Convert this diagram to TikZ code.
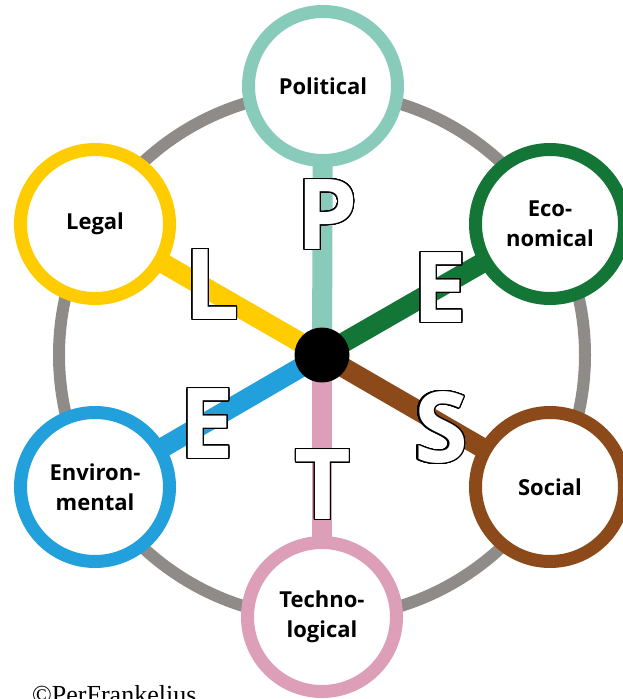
\documentclass[tikz,border=0pt]{standalone}
\usepackage{fontspec}
\setmainfont{Open Sans}
\newfontfamily\cpyfont{Liberation Serif}
\usepackage{contour}
\contourlength{1.2pt}
\contournumber{48}
\usetikzlibrary{backgrounds}
\definecolor{polc}{HTML}{89CBBB}
\definecolor{ecoc}{HTML}{137536}
\definecolor{socc}{HTML}{8C4A1B}
\definecolor{tecc}{HTML}{DC9FB7}
\definecolor{envc}{HTML}{21A0DB}
\definecolor{legc}{HTML}{FFCC00}
\definecolor{ringgray}{HTML}{8E8B89}
\begin{document}
\begin{tikzpicture}[x=1pt,y=-1pt,
  topic/.style={circle,draw=#1,line width=13pt,fill=white,minimum size=149pt,
    inner sep=0pt,align=center,font=\fontsize{22}{30}\selectfont\bfseries},
  spoke/.style={line width=20pt,draw=#1},
  bigletter/.style={inner sep=0pt,text=white,font=\fontsize{98}{98}\selectfont\bfseries}]
\useasboundingbox (0,0) rectangle (623,699);
\clip (0,0) rectangle (623,699);
\node[circle,fill=black,minimum size=55pt,inner sep=0pt] (hub) at (322,355) {};
\node[topic=polc] (pol) at (323,86) {Political};
\node[topic=ecoc] (eco) at (550,224) {Eco-\\nomical};
\node[topic=socc] (soc) at (550,487) {Social};
\node[topic=tecc] (tec) at (322,617) {Techno-\\logical};
\node[topic=envc] (env) at (95,487) {Environ-\\mental};
\node[topic=legc] (leg) at (95,224) {Legal};
\begin{scope}[on background layer]
  \draw[draw=ringgray,line width=12pt] (hub.center) circle[radius=263pt];
  \draw[spoke=polc] (hub.center) -- (pol.center);
  \draw[spoke=ecoc] (hub.center) -- (eco.center);
  \draw[spoke=socc] (hub.center) -- (soc.center);
  \draw[spoke=tecc] (hub.center) -- (tec.center);
  \draw[spoke=envc] (hub.center) -- (env.center);
  \draw[spoke=legc] (hub.center) -- (leg.center);
\end{scope}
\node[bigletter] (lp) at (327,215) {\contour{black}{P}};
\node[bigletter] (ll) at (212,285) {\contour{black}{L}};
\node[bigletter] (le1) at (440,288) {\contour{black}{E}};
\node[bigletter] (le2) at (207,424) {\contour{black}{E}};
\node[bigletter] (lt) at (323,485) {\contour{black}{T}};
\node[bigletter] (ls) at (441,428) {\contour{black}{S}};
\node[anchor=base west,inner sep=0pt,font=\cpyfont\fontsize{26}{26}\selectfont] (copy) at (32,703) {©PerFrankelius};
\end{tikzpicture}
\end{document}
